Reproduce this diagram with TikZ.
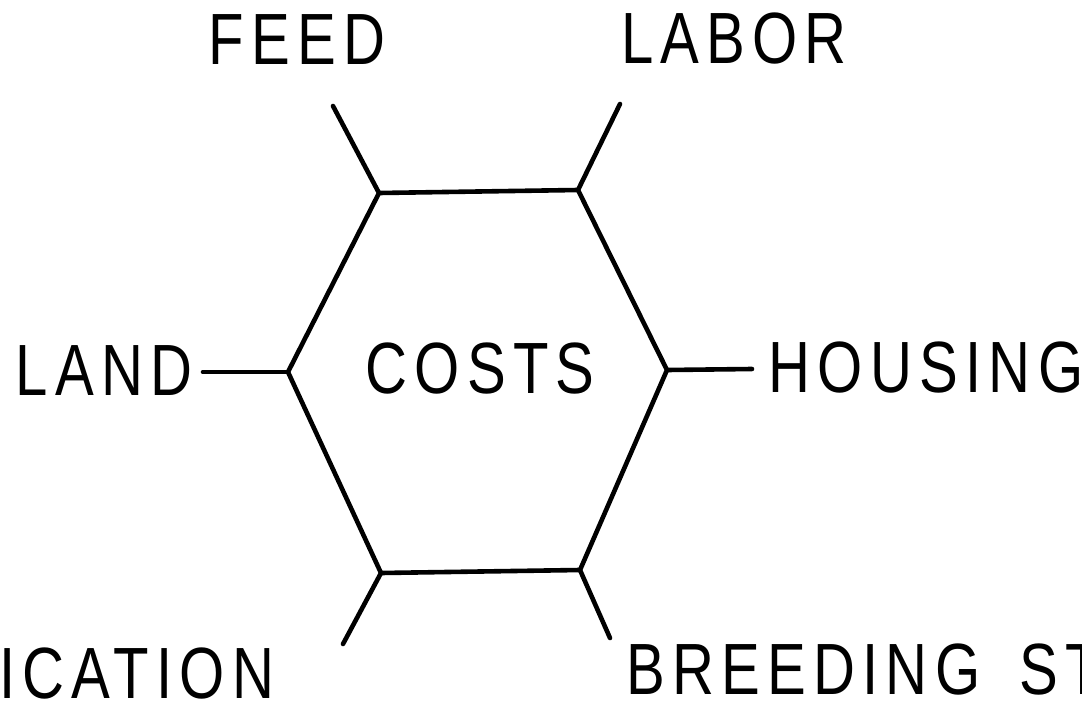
\documentclass[tikz,border=0pt]{standalone}
\usepackage{fontspec}
\setmainfont{Liberation Sans}[FakeStretch=0.8,LetterSpace=10]
\begin{document}
\begin{tikzpicture}[x=1pt,y=-1pt,
  edge/.style={line width=4.6pt,line cap=round,line join=miter},
  lbl/.style={inner sep=0pt,font=\fontsize{72.6}{80}\selectfont}]
\useasboundingbox (0,0) rectangle (1082,704);
\clip (0,0) rectangle (1082,704);
% hexagon vertices
\coordinate (tl) at (379,193);
\coordinate (tr) at (578,190);
\coordinate (r) at (667,370);
\coordinate (br) at (580,570);
\coordinate (bl) at (381,573);
\coordinate (l) at (288,372);
% free ends of spokes
\coordinate (etl) at (333,106);
\coordinate (etr) at (620,104);
\coordinate (el) at (203,372);
\coordinate (er) at (752,369);
\coordinate (ebl) at (343,644);
\coordinate (ebr) at (610,638);
\draw[edge] (tl) -- (tr) -- (r) -- (br) -- (bl) -- (l) -- cycle;
\draw[edge] (tl) -- (etl);
\draw[edge] (tr) -- (etr);
\draw[edge] (l) -- (el);
\draw[edge] (r) -- (er);
\draw[edge] (bl) -- (ebl);
\draw[edge] (br) -- (ebr);
% labels
\node[lbl] (costs) at (480,369) {COSTS};
\node[lbl] (feed) at (297,40) {FEED};
\node[lbl] (labor) at (734,39) {LABOR};
\node[lbl] (land) at (104,371) {LAND};
\node[lbl] (housing) at (926,368) {HOUSING};
\node[lbl,anchor=west] (ication) at (-1,674) {ICATION};
\node[lbl,anchor=west] (breeding) at (626,670) {BREEDING\hspace{16pt} ST};
\end{tikzpicture}
\end{document}
